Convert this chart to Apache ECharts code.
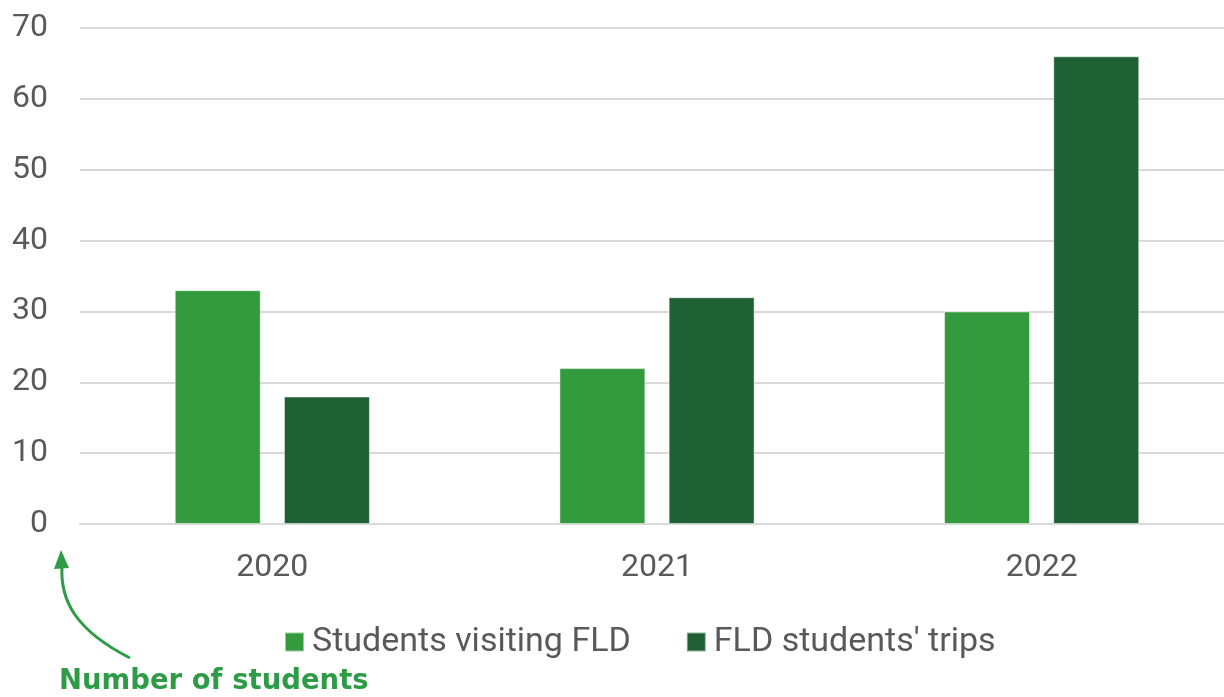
<!DOCTYPE html>
<html>
<head>
<meta charset="utf-8">
<script src="https://cdn.jsdelivr.net/npm/echarts@6/dist/echarts.min.js"></script>
<style>
html,body{margin:0;padding:0;background:#fff;}
#chart{width:1224px;height:697px;}
</style>
</head>
<body>
<div id="chart"></div>
<script>
const categories = ['2020', '2021', '2022'];
const studentsVisiting = [33, 22, 30];
const fldTrips = [18, 32, 66];
const yTicks = [0, 10, 20, 30, 40, 50, 60, 70];
const seriesNames = ['Students visiting FLD', "FLD students' trips"];
const annotation = 'Number of students';

const textColor = '#595959';
const fontFamily = 'Roboto, "Noto Sans", sans-serif';

const chart = echarts.init(document.getElementById('chart'), null, {renderer: 'canvas'});
chart.setOption({
  animation: false,
  backgroundColor: '#ffffff',
  textStyle: {fontFamily: fontFamily},
  grid: {left: 80, width: 1154, top: 28, bottom: 173, containLabel: false, outerBoundsMode: 'none'},
  legend: {
    data: seriesNames,
    left: 279,
    top: 620,
    itemWidth: 19,
    itemHeight: 19,
    itemGap: 55,
    icon: 'rect',
    textStyle: {fontSize: 34, color: textColor, fontFamily: fontFamily, padding: [0, 0, 0, 3]}
  },
  xAxis: {
    type: 'category',
    data: categories,
    axisLine: {show: true, lineStyle: {color: '#d9d9d9', width: 2}},
    axisTick: {show: false},
    axisLabel: {fontSize: 32, color: textColor, margin: 28, fontFamily: fontFamily}
  },
  yAxis: {
    type: 'value',
    min: yTicks[0],
    max: yTicks[yTicks.length - 1],
    interval: 10,
    axisLine: {show: false},
    axisTick: {show: false},
    splitLine: {lineStyle: {color: '#d9d9d9', width: 2}},
    axisLabel: {fontSize: 32, color: textColor, margin: 32, fontFamily: fontFamily}
  },
  series: [
    {
      name: seriesNames[0],
      type: 'bar',
      data: studentsVisiting,
      barWidth: 86,
      barGap: '27%',
      itemStyle: {color: '#339a3e', borderColor: 'rgba(255,255,255,0.5)', borderWidth: 1}
    },
    {
      name: seriesNames[1],
      type: 'bar',
      data: fldTrips,
      barWidth: 86,
      barGap: '27%',
      itemStyle: {color: '#1f6134', borderColor: 'rgba(255,255,255,0.5)', borderWidth: 1}
    }
  ],
  graphic: [
    {
      type: 'text',
      left: 59,
      top: 668,
      style: {text: annotation, fontSize: 27.5, fontWeight: 'bold', fill: '#2e9b47', fontFamily: '"DejaVu Sans", sans-serif'}
    },
    {
      type: 'bezierCurve',
      shape: {x1: 130, y1: 658, x2: 62, y2: 566, cpx1: 75, cpy1: 630, cpx2: 60, cpy2: 600},
      style: {stroke: '#2e9b47', lineWidth: 3, fill: null}
    },
    {
      type: 'polygon',
      shape: {points: [[61, 550], [54, 569], [69, 568]]},
      style: {fill: '#2e9b47'}
    }
  ]
});
</script>
</body>
</html>
